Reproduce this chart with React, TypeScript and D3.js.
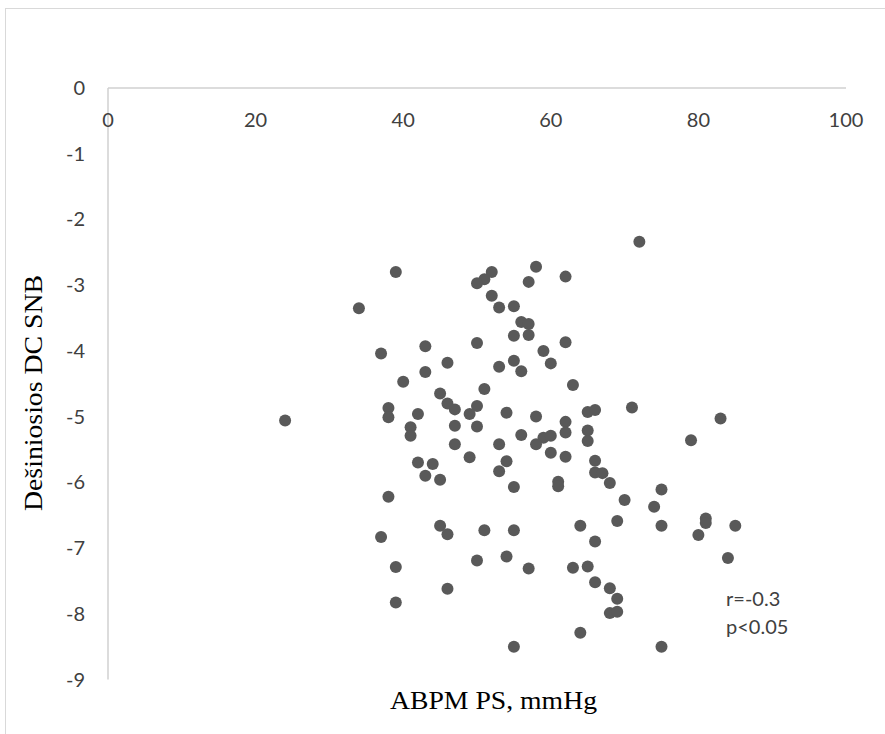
import React from "react";
import * as d3 from "d3";

// ABPM systolic pressure (mmHg)
const abpmPS: number[] = [
  39, 34, 52, 51, 50, 58, 57, 62, 52, 53, 55, 56, 57, 55, 57, 50, 43, 37, 62, 59,
  55, 53, 56, 60, 46, 43, 40, 51, 63, 45, 46, 47, 50, 49, 54, 58, 38, 38, 42, 24,
  41, 41, 47, 50, 56, 59, 60, 58, 47, 53, 62, 62,
  72, 65, 66, 71, 83, 65, 65, 79,
  60, 62, 42, 44, 49, 54, 53, 43, 45, 55, 61, 61, 38, 37, 45, 46, 51, 55, 50, 54,
  57, 63, 39, 46, 39, 55,
  66, 66, 67, 68, 75, 70, 74, 64, 69, 75, 81, 81, 85, 80, 66, 84, 65, 66, 68, 69,
  68, 69, 64, 75,
];

// Right-side DC SNB values
const dcSNB: number[] = [
  -2.8, -3.35, -2.8, -2.91, -2.97, -2.72, -2.95, -2.87, -3.16, -3.34, -3.32, -3.56, -3.59, -3.77, -3.76, -3.88, -3.93, -4.04, -3.87, -4.0,
  -4.15, -4.24, -4.31, -4.19, -4.18, -4.32, -4.47, -4.58, -4.52, -4.65, -4.8, -4.89, -4.84, -4.96, -4.94, -5.0, -4.87, -5.01, -4.96, -5.06,
  -5.16, -5.29, -5.14, -5.15, -5.28, -5.32, -5.29, -5.42, -5.42, -5.42, -5.08, -5.24,
  -2.34, -4.93, -4.9, -4.86, -5.03, -5.21, -5.37, -5.36,
  -5.55, -5.61, -5.7, -5.72, -5.62, -5.68, -5.83, -5.9, -5.96, -6.07, -5.99, -6.06, -6.22, -6.83, -6.66, -6.79, -6.73, -6.73, -7.19, -7.13,
  -7.31, -7.3, -7.29, -7.62, -7.83, -8.5,
  -5.67, -5.85, -5.86, -6.01, -6.11, -6.27, -6.37, -6.66, -6.59, -6.66, -6.55, -6.62, -6.66, -6.8, -6.9, -7.15, -7.28, -7.52, -7.61, -7.77,
  -7.99, -7.97, -8.29, -8.5,
];

const xTicks: number[] = [0, 20, 40, 60, 80, 100];
const yTicks: number[] = [0, -1, -2, -3, -4, -5, -6, -7, -8, -9];

const xTitle = "ABPM PS, mmHg";
const yTitle = "Dešiniosios DC SNB";
const statLines: string[] = ["r=-0.3", "p<0.05"];

const W = 885;
const H = 734;

export default function App() {
  const x = d3.scaleLinear().domain([0, 100]).range([108, 846]);
  const y = d3.scaleLinear().domain([0, -9]).range([88, 679.5]);

  const points = abpmPS.map((v, i) => ({ x: v, y: dcSNB[i] }));
  const tickFont = "Lato, 'Open Sans', sans-serif";
  const titleFont = "'Liberation Serif', 'Times New Roman', serif";
  const textColor = "#404040";
  const axisColor = "#d0d0d0";

  return (
    <div style={{ position: "absolute", left: 0, top: 0 }}>
      <svg width={W} height={H} style={{ display: "block" }}>
        <rect x={0} y={0} width={W} height={H} fill="#ffffff" />
        {/* chart area border */}
        <rect x={5.5} y={8.5} width={W + 20} height={H + 20} fill="none" stroke="#d9d9d9" strokeWidth={1} />

        {/* axes */}
        <line x1={x(0)} x2={x(100)} y1={y(0)} y2={y(0)} stroke={axisColor} strokeWidth={1.5} />
        <line x1={x(0)} x2={x(0)} y1={y(0)} y2={y(-9)} stroke={axisColor} strokeWidth={1.5} />

        {/* x tick labels */}
        {xTicks.map((t) => (
          <text
            key={`xt${t}`}
            x={x(t)}
            y={y(0) + 38.5}
            textAnchor="middle"
            fontFamily={tickFont}
            fontSize={20}
            fill={textColor}
          >
            {t}
          </text>
        ))}

        {/* y tick labels */}
        {yTicks.map((t) => (
          <text
            key={`yt${t}`}
            x={85}
            y={y(t) + 7}
            textAnchor="end"
            fontFamily={tickFont}
            fontSize={20}
            fill={textColor}
          >
            {t}
          </text>
        ))}

        {/* data points */}
        {points.map((p, i) => (
          <circle key={i} cx={x(p.x)} cy={y(p.y)} r={6} fill="#595959" />
        ))}

        {/* correlation annotation */}
        {statLines.map((s, i) => (
          <text
            key={s}
            x={726}
            y={606 + i * 28}
            fontFamily={tickFont}
            fontSize={20}
            fill={textColor}
          >
            {s}
          </text>
        ))}

        {/* axis titles */}
        <text
          x={493.5}
          y={709}
          textAnchor="middle"
          fontFamily={titleFont}
          fontSize={26}
          fill="#000"
          textLength={207}
          lengthAdjust="spacingAndGlyphs"
        >
          {xTitle}
        </text>
        <text
          transform={`translate(42, 393) rotate(-90)`}
          textAnchor="middle"
          fontFamily={titleFont}
          fontSize={26}
          fill="#000"
          textLength={236}
          lengthAdjust="spacingAndGlyphs"
        >
          {yTitle}
        </text>
      </svg>
    </div>
  );
}
